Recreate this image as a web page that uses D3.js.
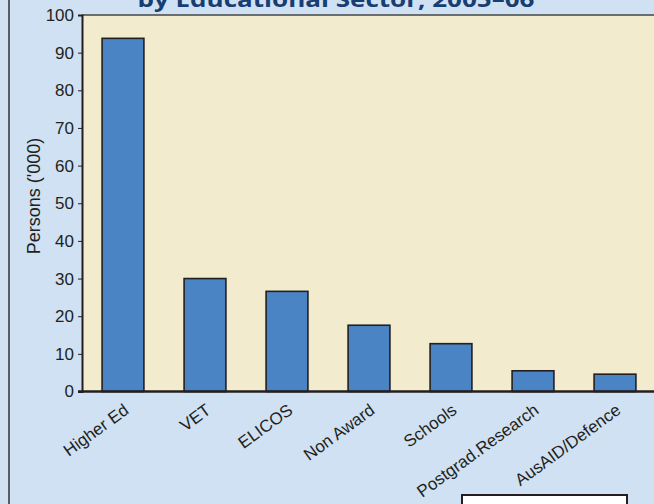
<!DOCTYPE html>
<html>
<head>
<meta charset="utf-8">
<script src="https://cdn.jsdelivr.net/npm/d3@7"></script>
<style>
  body { margin: 0; padding: 0; background: #cfe1f2; }
  svg { display: block; }
</style>
</head>
<body>
<div id="plot"></div>
<script>
// Chart data
var sectors = ["Higher Ed", "VET", "ELICOS", "Non Award", "Schools", "Postgrad.Research", "AusAID/Defence"];
var persons = [93.8, 30.0, 26.6, 17.6, 12.7, 5.5, 4.6];
var yTicks = [0, 10, 20, 30, 40, 50, 60, 70, 80, 90, 100];
var titleText = "by Educational Sector, 2005\u201306";

var totalW = 654, totalH = 504;
var margin = { top: 15, left: 82, bottom: 113 };
var plotRight = 656;
var plotBottom = totalH - margin.bottom + 0.5;

var svg = d3.select("div#plot")
    .append("svg")
    .attr("width", totalW)
    .attr("height", totalH);

// background panel
svg.append("rect")
    .attr("width", totalW)
    .attr("height", totalH)
    .attr("fill", "#cfe1f2");

// left frame line
svg.append("line")
    .attr("x1", 9).attr("x2", 9)
    .attr("y1", 0).attr("y2", totalH)
    .attr("stroke", "#3c3c3c")
    .attr("stroke-width", 1.6);

// title (its top is cut off in the reference too)
svg.append("text")
    .attr("x", 336)
    .attr("y", 7)
    .attr("text-anchor", "middle")
    .attr("textLength", 397)
    .attr("lengthAdjust", "spacingAndGlyphs")
    .style("font-family", "'Open Sans', sans-serif")
    .style("font-weight", "bold")
    .style("font-size", "21px")
    .style("fill", "#173e73")
    .text(titleText);

// scales
var xScale = d3.scaleBand()
    .domain(sectors)
    .range([margin.left, plotRight])
    .paddingInner(0.49)
    .paddingOuter(0.245);

var yScale = d3.scaleLinear()
    .domain([0, 100])
    .range([plotBottom, margin.top]);

// plot area
svg.append("rect")
    .attr("x", margin.left)
    .attr("y", margin.top)
    .attr("width", plotRight - margin.left)
    .attr("height", plotBottom - margin.top)
    .attr("fill", "#f2ebcd");

svg.append("line")
    .attr("x1", margin.left).attr("x2", plotRight)
    .attr("y1", margin.top).attr("y2", margin.top)
    .attr("stroke", "#444")
    .attr("stroke-width", 1.5);

// bars
svg.selectAll(".bar")
    .data(sectors)
    .enter().append("rect")
    .attr("class", "bar")
    .attr("x", function (d) { return xScale(d); })
    .attr("y", function (d, i) { return yScale(persons[i]); })
    .attr("width", xScale.bandwidth())
    .attr("height", function (d, i) { return plotBottom - yScale(persons[i]); })
    .attr("fill", "#4a84c4")
    .attr("stroke", "#231f20")
    .attr("stroke-width", 1.6);

// y axis
var yAxis = svg.append("g")
    .attr("transform", "translate(" + margin.left + ",0)")
    .call(d3.axisLeft(yScale).tickValues(yTicks).tickSize(4).tickPadding(4));
yAxis.select(".domain").attr("stroke", "#231f20").attr("stroke-width", 2);
yAxis.selectAll(".tick line").attr("stroke", "#231f20").attr("stroke-width", 1);
yAxis.selectAll(".tick text")
    .style("font-family", "'Liberation Sans', Arial, sans-serif")
    .style("font-size", "17px")
    .style("fill", "#231f20");

// x axis line
svg.append("line")
    .attr("x1", margin.left - 4).attr("x2", plotRight)
    .attr("y1", plotBottom).attr("y2", plotBottom)
    .attr("stroke", "#231f20")
    .attr("stroke-width", 2.5);

// x labels, rotated
svg.selectAll(".xlabel")
    .data(sectors)
    .enter().append("text")
    .attr("class", "xlabel")
    .attr("transform", function (d) {
        return "translate(" + (xScale(d) + xScale.bandwidth() / 2 + 7) + "," + (plotBottom + 21) + ") rotate(-36)";
    })
    .attr("text-anchor", "end")
    .style("font-family", "'Liberation Sans', Arial, sans-serif")
    .style("font-size", "17px")
    .style("fill", "#231f20")
    .text(function (d) { return d; });

// y axis label
svg.append("text")
    .attr("transform", "rotate(-90)")
    .attr("x", -196)
    .attr("y", 40)
    .style("text-anchor", "middle")
    .style("font-family", "'Liberation Sans', Arial, sans-serif")
    .style("font-size", "18px")
    .style("fill", "#231f20")
    .text("Persons ('000)");

// cut-off box at the bottom
svg.append("rect")
    .attr("x", 462)
    .attr("y", 495)
    .attr("width", 165)
    .attr("height", 20)
    .attr("fill", "#ffffff")
    .attr("stroke", "#231f20")
    .attr("stroke-width", 2);
</script>
</body>
</html>
